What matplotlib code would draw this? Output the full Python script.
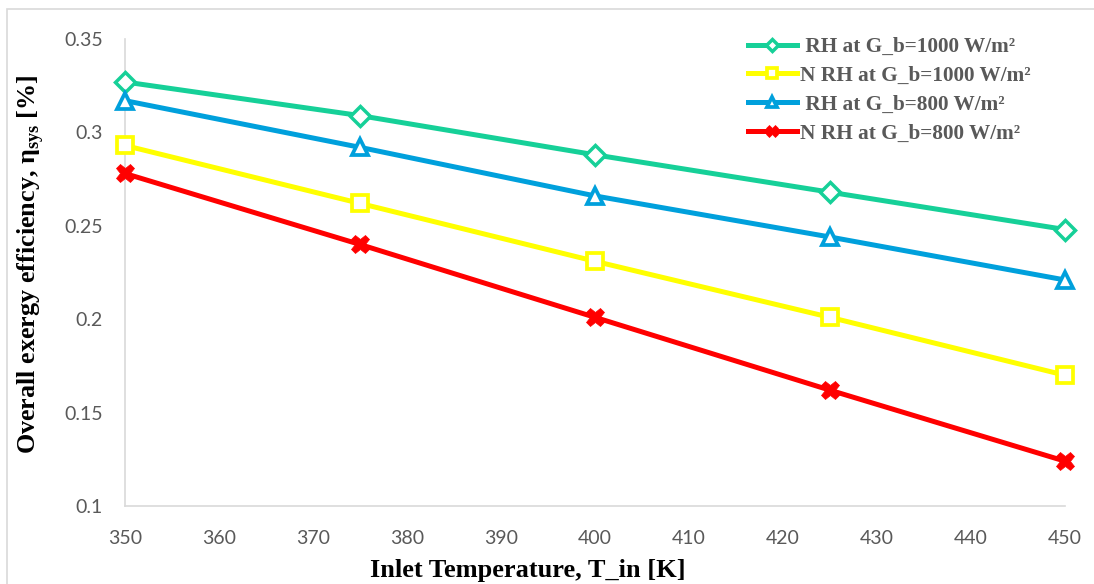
import matplotlib
matplotlib.use("Agg")
import matplotlib.pyplot as plt
from matplotlib.patches import Rectangle

# Inlet temperature [K]
temperature = [350, 375, 400, 425, 450]

# Overall exergy efficiency for each configuration
rh_1000 = [0.327, 0.309, 0.288, 0.268, 0.248]
nrh_1000 = [0.293, 0.262, 0.231, 0.201, 0.170]
rh_800 = [0.317, 0.292, 0.266, 0.244, 0.221]
nrh_800 = [0.278, 0.240, 0.201, 0.162, 0.124]

labels = [" RH at G_b=1000 W/m²", "N RH at G_b=1000 W/m²",
          " RH at G_b=800 W/m²", "N RH at G_b=800 W/m²"]

x_ticks = [350, 360, 370, 380, 390, 400, 410, 420, 430, 440, 450]
y_ticks = [0.1, 0.15, 0.2, 0.25, 0.3, 0.35]
y_tick_labels = ["0.1", "0.15", "0.2", "0.25", "0.3", "0.35"]

plt.rcParams["mathtext.fontset"] = "custom"
plt.rcParams["mathtext.rm"] = "Liberation Serif"
plt.rcParams["mathtext.bf"] = "Liberation Serif:bold"

W, H = 1094, 584
fig = plt.figure(figsize=(W / 100, H / 100), dpi=100)
ax = fig.add_axes([125 / W, 78 / H, 940 / W, 467 / H])

green = "#16D098"
yellow = "#FFFF00"
blue = "#00A0DC"
red = "#FF0000"
lw = 3.6

ax.plot(temperature, rh_1000, color=green, lw=lw, marker="D", ms=10.5,
        mfc="white", mec=green, mew=2.5, label=labels[0], zorder=3, clip_on=False)
ax.plot(temperature, nrh_1000, color=yellow, lw=lw, marker="s", ms=11.5,
        mfc="white", mec=yellow, mew=2.7, label=labels[1], zorder=3, clip_on=False)
ax.plot(temperature, rh_800, color=blue, lw=lw, marker="^", ms=11.5,
        mfc="white", mec=blue, mew=2.7, label=labels[2], zorder=3, clip_on=False)
ax.plot(temperature, nrh_800, color=red, lw=lw, marker="X", ms=13.5,
        mfc=red, mec=red, mew=0.5, label=labels[3], zorder=3, clip_on=False)

ax.set_xlim(350, 450)
ax.set_ylim(0.1, 0.35)
ax.set_xticks(x_ticks)
ax.set_yticks(y_ticks)
ax.set_yticklabels(y_tick_labels)

for lab in ax.get_xticklabels() + ax.get_yticklabels():
    lab.set_fontfamily("Lato")
    lab.set_fontsize(14)
    lab.set_color("#595959")
ax.tick_params(axis="x", length=0, pad=17)
ax.tick_params(axis="y", length=0, pad=16)

for side in ("top", "right"):
    ax.spines[side].set_visible(False)
for side in ("left", "bottom"):
    ax.spines[side].set_color("#D9D9D9")
    ax.spines[side].set_linewidth(1.2)
    ax.spines[side].set_zorder(1)

label_font = dict(family="Liberation Serif", weight="bold", color="black")
fig.text(528 / W, 1 - 570 / H, "Inlet Temperature, T_in [K]",
         ha="center", va="center", size=19, **label_font)
fig.text(31 / W, 1 - 264 / H, r"Overall exergy efficiency, η$_{\mathbf{sys}}$ [%]",
         ha="center", va="center", rotation=90, size=18.8, **label_font)

leg = ax.legend(loc="upper left", bbox_to_anchor=(748 / W, 1 - 37 / H),
                bbox_transform=fig.transFigure, frameon=False,
                prop=dict(family="Liberation Serif", weight="bold", size=15.3),
                handlelength=2.3, handletextpad=0.15, labelspacing=0.42,
                borderpad=0, borderaxespad=0, markerscale=0.6)
for t in leg.get_texts():
    t.set_color("#595959")

# Chart area border
fig.patches.append(Rectangle((7 / W, -0.05), 1.2, (H - 9) / H + 0.05,
                             transform=fig.transFigure, fill=False,
                             edgecolor="#D9D9D9", lw=1.2, clip_on=False))

fig.savefig("out.png", dpi=100)
